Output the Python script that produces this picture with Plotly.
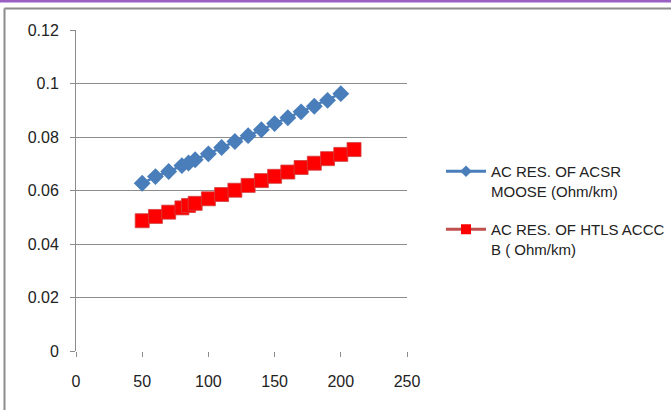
import plotly.graph_objects as go

# Conductor current (A) vs AC resistance (Ohm/km)
acsr_x = [50, 60, 70, 80, 85, 90, 100, 110, 120, 130, 140, 150, 160, 170, 180, 190, 200]
acsr_r = [0.0627, 0.0652, 0.0671, 0.0693, 0.0703, 0.0715, 0.0737, 0.0761, 0.0783, 0.0805, 0.0827, 0.0850, 0.0872, 0.0894, 0.0915, 0.0937, 0.0962]

htls_x = [50, 60, 70, 80, 85, 90, 100, 110, 120, 130, 140, 150, 160, 170, 180, 190, 200, 210]
htls_r = [0.0487, 0.0503, 0.0519, 0.0535, 0.0544, 0.0552, 0.0569, 0.0585, 0.0601, 0.0619, 0.0637, 0.0653, 0.0669, 0.0686, 0.0702, 0.0719, 0.0735, 0.0753]

acsr_name = "AC RES. OF ACSR<br>MOOSE (Ohm/km)"
htls_name = "AC RES. OF HTLS ACCC<br>B ( Ohm/km)"

FONT = "Liberation Sans"
BLUE = "#4a7ebb"
RED_LINE = "#c0504d"
RED_MARK = "#ff0000"

fig = go.Figure()
# data series
fig.add_trace(go.Scatter(
    x=acsr_x, y=acsr_r, name=acsr_name, mode="lines+markers", showlegend=False,
    line=dict(color=BLUE, width=2.5),
    marker=dict(symbol="diamond", size=13, color=BLUE, line=dict(width=0)),
))
fig.add_trace(go.Scatter(
    x=htls_x, y=htls_r, name=htls_name, mode="lines+markers", showlegend=False,
    line=dict(color=RED_LINE, width=2.5),
    marker=dict(symbol="square", size=14, color=RED_MARK,
                line=dict(color="#d04040", width=0.8)),
))
# legend keys (smaller markers than the plotted points)
fig.add_trace(go.Scatter(
    x=[None], y=[None], name=acsr_name, mode="lines+markers", legendgroup="a",
    line=dict(color=BLUE, width=3),
    marker=dict(symbol="diamond", size=9, color=BLUE, line=dict(width=0)),
))
fig.add_trace(go.Scatter(
    x=[None], y=[None], name=htls_name, mode="lines+markers", legendgroup="b",
    line=dict(color=RED_LINE, width=3),
    marker=dict(symbol="square", size=10, color=RED_MARK, line=dict(width=0)),
))

L, R, T, B = 76, 264, 30, 59
W, H = 671, 410
pw, ph = W - L - R, H - T - B

def px_x(p):
    return (p - L) / pw

def px_y(p):
    return (H - B - p) / ph

shapes = [
    # purple strip along the top edge
    dict(type="rect", xref="paper", yref="paper",
         x0=px_x(0), x1=px_x(W), y0=px_y(2.5), y1=px_y(0),
         fillcolor="#9b5fc4", line=dict(width=0), layer="above"),
    # chart frame (left and top edges)
    dict(type="line", xref="paper", yref="paper",
         x0=px_x(4.5), x1=px_x(W + 5), y0=px_y(8.5), y1=px_y(8.5),
         line=dict(color="#8c8c8c", width=2)),
    dict(type="line", xref="paper", yref="paper",
         x0=px_x(4.5), x1=px_x(4.5), y0=px_y(8.5), y1=px_y(H + 5),
         line=dict(color="#8c8c8c", width=2)),
]

fig.update_layout(
    width=W, height=H,
    margin=dict(l=L, r=R, t=T, b=B, autoexpand=False),
    paper_bgcolor="white", plot_bgcolor="white",
    font=dict(family=FONT, size=15, color="#222222"),
    showlegend=True,
    legend=dict(x=px_x(441), y=px_y(155), xanchor="left", yanchor="top",
                font=dict(family=FONT, size=15, color="#222222"),
                itemwidth=40, traceorder="grouped", tracegroupgap=16,
                valign="top", bgcolor="rgba(0,0,0,0)"),
    shapes=shapes,
    xaxis=dict(range=[0, 250], tickvals=[0, 50, 100, 150, 200, 250],
               showgrid=False, zeroline=False, showline=False,
               ticks="outside", ticklen=5, tickcolor="#8c8c8c",
               ticklabelstandoff=11,
               tickfont=dict(family=FONT, size=16, color="#222222")),
    yaxis=dict(range=[0, 0.12], tickvals=[0, 0.02, 0.04, 0.06, 0.08, 0.1, 0.12],
               ticktext=["0", "0.02", "0.04", "0.06", "0.08", "0.1", "0.12"],
               showgrid=True, gridcolor="#8c8c8c", gridwidth=1,
               zeroline=False, showline=True, linecolor="#8c8c8c", linewidth=1,
               ticks="outside", ticklen=5, tickcolor="#8c8c8c",
               ticklabelstandoff=8,
               tickfont=dict(family=FONT, size=16, color="#222222")),
)

fig.write_html("out.html")
